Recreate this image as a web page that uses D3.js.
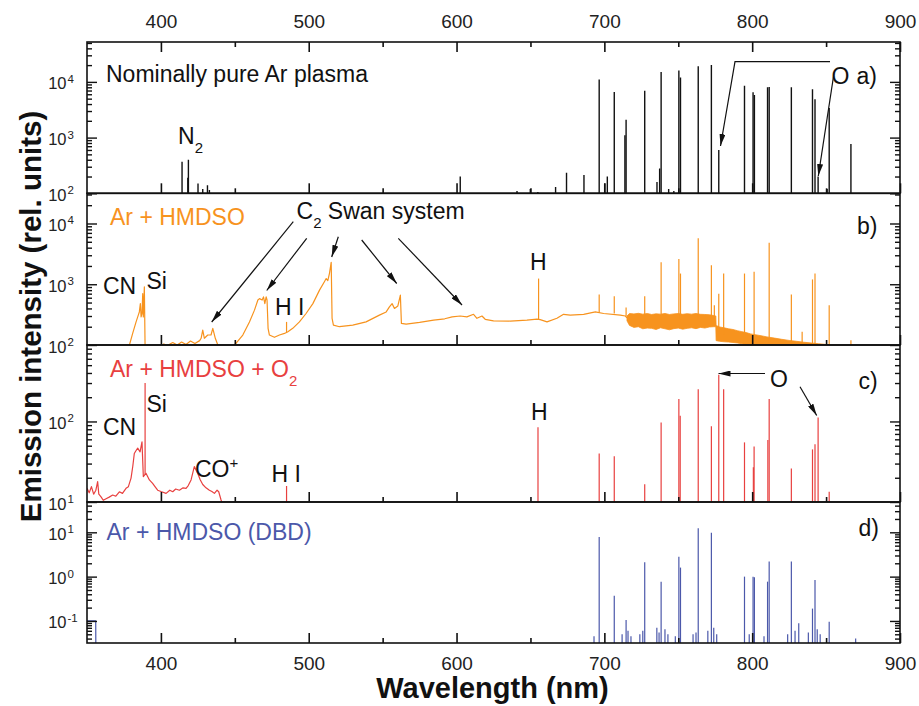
<!DOCTYPE html>
<html>
<head>
<meta charset="utf-8">
<script src="https://cdn.jsdelivr.net/npm/d3@7"></script>
<style>
  body { margin: 0; background: #fff; }
  svg { display: block; font-family: "Liberation Sans", Arial, sans-serif; }
</style>
</head>
<body>
<svg id="chart" width="919" height="706"></svg>
<script>
// ---- values ----
const wlMajor = [400, 500, 600, 700, 800, 900];
const wlMinor = [450, 550, 650, 750, 850];

// a) nominally pure Ar plasma: [wavelength, peak]
const arLines = [
  [414.3, 370], [418.2, 190], [418.6, 400], [425.1, 150], [428.3, 120], [431.5, 140], [432.8, 115],
  [602.5, 200], [640.9, 110], [649.9, 120], [655.0, 105], [667.0, 130], [674.4, 235], [686.2, 213],
  [696.5, 1.1e4], [700.2, 150], [702.0, 200], [706.7, 6.6e3], [713.9, 1.1e3], [714.7, 2.1e3],
  [727.3, 6.9e3], [735.6, 160], [737.4, 280], [738.4, 1.5e4], [743.5, 120], [747.0, 110],
  [750.4, 1.6e4], [751.5, 1.2e4], [763.5, 1.9e4], [772.4, 2.0e4], [777.4, 600], [794.8, 8.5e3],
  [800.6, 6.5e3], [801.5, 5.8e3], [810.4, 8.0e3], [811.5, 8.1e3], [826.5, 8.0e3], [840.8, 7.4e3],
  [842.5, 4.9e3], [844.6, 200], [850.7, 120], [852.1, 3.4e3], [866.8, 770]
];

// b) Ar + HMDSO: continuum [wl, value], noisy band [wl, low, high], lines [wl, base, peak]
const hmdsoCont = [
  [350, 80], [377.5, 80], [378.7, 100], [380.9, 155], [383.2, 240], [384.7, 310], [385.4, 350],
  [386.1, 480], [386.6, 290], [387.2, 330], [387.7, 700], [388.1, 290], [388.8, 910], [389.3, 90],
  [389.9, 80], [399, 88], [402, 104], [404, 97], [408, 110], [411, 100], [414, 112], [417, 102],
  [420, 116], [423, 106], [426.2, 118],
  [427.2, 129], [428.3, 176], [429.4, 129], [431.7, 146], [433.9, 146], [435.1, 188], [436.8, 129],
  [438.5, 100], [441, 90], [448.6, 95], [450.9, 107], [455.4, 146], [459.9, 240], [463.3, 375],
  [465.6, 550], [466.7, 580], [468.5, 550], [469.4, 620], [470.3, 480], [471.2, 620], [471.8, 550],
  [472.5, 188], [473.4, 146], [476.8, 134], [480.2, 146], [483.6, 155], [485.9, 165], [489.2, 188],
  [493.7, 240], [498.2, 330], [502.8, 480], [507.3, 800], [510.6, 1100], [511.8, 1240], [512.9, 1150],
  [514.0, 1500], [515.2, 2300], [515.8, 275], [516.7, 213], [520.8, 200], [529.8, 213], [538.8, 240],
  [547.8, 310], [552.4, 350], [554.6, 425], [556.4, 480], [558.0, 400], [560.3, 440], [562.0, 660],
  [562.7, 227], [565.9, 220], [575, 235], [584.5, 256], [592, 270], [597, 290], [602.5, 300],
  [607, 290], [611.5, 320], [613.8, 275], [617.2, 300], [619.4, 265], [625, 250], [636.3, 248],
  [647.6, 256], [654.4, 267], [656.6, 262], [661.2, 240], [667.9, 275], [672.4, 320], [676.9, 310],
  [686, 320], [693.9, 350], [699.5, 330], [710.8, 310], [714.2, 300], [715.3, 280]
];
const hmdsoBand = [
  [715.3, 250, 300], [717, 210, 330], [720, 195, 325], [723, 200, 332], [726, 185, 322], [729, 190, 330],
  [732, 188, 318], [735, 180, 326], [738, 192, 322], [741, 185, 330], [744, 178, 318], [747, 186, 325],
  [750, 190, 330], [753, 182, 320], [756, 188, 328], [759, 192, 322], [762, 186, 330], [765, 195, 320],
  [768, 190, 318], [771, 198, 315], [774, 200, 305], [775.4, 200, 300],
  [775.6, 118, 210], [778, 115, 198], [781, 113, 192], [784, 112, 185], [787, 110, 180], [790, 108, 172],
  [793, 105, 166], [796, 102, 160], [799, 96, 152], [802, 90, 148], [806, 90, 142], [810, 90, 136],
  [815, 90, 130], [820, 90, 124], [825, 90, 119], [830, 90, 115], [835, 90, 111], [840, 90, 108],
  [845, 90, 105], [852, 90, 101]
];
const hmdsoLines = [
  [485.0, 160, 240], [655.5, 262, 1240], [696.5, 340, 680], [706.7, 330, 635], [714.7, 300, 415],
  [727.3, 260, 635], [738.4, 260, 2300], [750.4, 260, 2600], [751.5, 260, 1500], [763.5, 260, 5700],
  [772.4, 260, 2050], [774.4, 260, 450], [777.4, 190, 700], [780.7, 150, 1500], [794.8, 130, 1500],
  [801.3, 120, 1600], [811.5, 110, 4800], [826.5, 100, 680], [833.8, 95, 165], [840.8, 95, 1200],
  [842.5, 95, 1500], [852.1, 95, 450], [866.8, 95, 120]
];

// c) Ar + HMDSO + O2
const o2Cont = [
  [350, 14.8], [351.5, 13], [353, 15.5], [354.5, 12.5], [356, 14], [357.2, 17.9], [358, 12.5],
  [359.5, 11.6], [361, 10.5], [362.9, 11], [365, 11.5], [367.4, 12.2], [369.5, 11.8], [371.9, 13.4],
  [374, 12.8], [376.4, 14.8], [378, 15.5], [379.8, 19.8], [381, 28], [382, 40], [383, 43],
  [384.3, 46.6], [385.9, 42], [387.2, 56], [388.1, 20.7], [389.9, 22.7], [392.2, 18.8], [394.4, 17],
  [396, 15.5], [397.8, 14], [400, 13.5], [403.5, 12.8], [406, 14], [408, 13.4], [410, 14.5],
  [412.5, 14], [415, 15], [417, 14.8], [418.5, 16], [420.4, 18.8], [422.6, 27.5], [424.9, 22.7],
  [426.5, 19], [428.3, 16.5], [430.5, 15], [432.8, 14], [434.5, 13.5], [436.2, 12.8], [438, 14],
  [439.1, 13.4], [440.7, 10.6], [442, 9], [900, 9]
];
const o2Lines = [
  [389.3, 22, 300], [485.0, 9, 15.8], [655.1, 9, 85], [696.5, 9, 40], [706.7, 9, 37], [727.3, 9, 16.6],
  [738.4, 9, 97], [750.4, 9, 190], [751.3, 9, 118], [763.5, 9, 252], [772.4, 9, 87], [777.4, 9, 380],
  [780.7, 9, 252], [794.8, 9, 55], [800.8, 9, 27], [801.3, 9, 49], [810.6, 9, 59], [811.5, 9, 190],
  [826.5, 9, 26], [840.8, 9, 45], [842.5, 9, 52], [844.6, 9, 112], [852.1, 9, 13.4]
];

// d) Ar + HMDSO (DBD)
const dbdCont = [[350, 0.1], [355.9, 0.1], [356.0, 0.02], [900, 0.02]];
const dbdLines = [
  [696.5, 0.02, 7.8], [706.7, 0.02, 0.37], [714.7, 0.02, 0.105], [727.3, 0.02, 2.1], [738.4, 0.02, 0.77],
  [750.4, 0.02, 2.8], [751.5, 0.02, 1.6], [763.5, 0.02, 12.3], [772.4, 0.02, 9.8], [794.8, 0.02, 1.0],
  [800.6, 0.02, 1.0], [801.5, 0.02, 0.97], [810.4, 0.02, 0.77], [811.5, 0.02, 2.2], [826.5, 0.02, 2.2],
  [831.5, 0.02, 0.089], [840.8, 0.02, 0.19], [842.5, 0.02, 0.84], [852.1, 0.02, 0.096],
  [693, 0.02, 0.045], [712, 0.02, 0.05], [716, 0.02, 0.06], [718, 0.02, 0.045], [724, 0.02, 0.05],
  [726, 0.02, 0.06], [735.5, 0.02, 0.07], [737, 0.02, 0.055], [741, 0.02, 0.065], [743, 0.02, 0.05],
  [748, 0.02, 0.045], [760, 0.02, 0.05], [762, 0.02, 0.055], [770, 0.02, 0.06], [774, 0.02, 0.07],
  [776, 0.02, 0.05], [798, 0.02, 0.05], [808, 0.02, 0.045], [824, 0.02, 0.05], [829, 0.02, 0.06],
  [838, 0.02, 0.055], [844, 0.02, 0.065], [846, 0.02, 0.05], [870, 0.02, 0.04]
];

// ---- layout ----
const svg = d3.select("#chart");
const x = d3.scaleLinear().domain([350, 900]).range([87, 900]);
const FONT = 23;

const panels = [
  { id: "a", top: 42, bottom: 193.3, domain: [100, 5.2e4], color: "#111", lines: arLines.map(d => [d[0], 90, d[1]]) },
  { id: "b", top: 193.3, bottom: 345, domain: [100, 3.14e4], color: "#f7931e", cont: hmdsoCont, band: hmdsoBand, lines: hmdsoLines },
  { id: "c", top: 345, bottom: 502, domain: [10, 890], color: "#e8403f", cont: o2Cont, lines: o2Lines },
  { id: "d", top: 502, bottom: 643, domain: [0.0318, 48.3], color: "#4b58aa", cont: dbdCont, lines: dbdLines }
];

const defs = svg.append("defs");
defs.append("marker")
  .attr("id", "arrow")
  .attr("viewBox", "0 0 12 6")
  .attr("refX", 12)
  .attr("refY", 3)
  .attr("markerWidth", 12)
  .attr("markerHeight", 6)
  .attr("markerUnits", "userSpaceOnUse")
  .attr("orient", "auto")
  .append("path")
  .attr("d", "M0,0 L12,3 L0,6 Z")
  .attr("fill", "#111");

panels.forEach((p) => {
  const y = d3.scaleLog().domain(p.domain).range([p.bottom, p.top]);
  p.y = y;

  defs.append("clipPath").attr("id", "clip-" + p.id)
    .append("rect")
    .attr("x", x(350)).attr("y", p.top)
    .attr("width", x(900) - x(350)).attr("height", p.bottom - p.top);

  const g = svg.append("g").attr("clip-path", `url(#clip-${p.id})`);

  if (p.band) {
    g.append("path")
      .datum(p.band)
      .attr("fill", p.color)
      .attr("stroke", p.color)
      .attr("stroke-width", 0.8)
      .attr("d", d3.area().x(d => x(d[0])).y0(d => y(d[1])).y1(d => y(d[2])));
  }

  if (p.cont) {
    g.append("path")
      .datum(p.cont)
      .attr("fill", "none")
      .attr("stroke", p.color)
      .attr("stroke-width", 1.2)
      .attr("stroke-linejoin", "round")
      .attr("d", d3.line().x(d => x(d[0])).y(d => y(d[1])));
  }

  g.selectAll("line.spike")
    .data(p.lines)
    .join("line")
    .attr("class", "spike")
    .attr("x1", d => x(d[0]))
    .attr("x2", d => x(d[0]))
    .attr("y1", d => y(d[1]))
    .attr("y2", d => y(d[2]))
    .attr("stroke", p.color)
    .attr("stroke-width", p.id === "a" ? 1.4 : 1.2);

  // y ticks: decades and 2..9 minors, pointing inward on both sides
  const all = y.ticks();
  const major = all.filter(v => Math.abs(Math.log10(v) - Math.round(Math.log10(v))) < 1e-6);
  const minor = all.filter(v => !major.includes(v));

  const axG = svg.append("g");
  const tickAxis = (axis, tx, values, size) => {
    axG.append("g")
      .attr("transform", `translate(${tx},0)`)
      .call(axis(y).tickValues(values).tickSize(-size).tickSizeOuter(0).tickFormat(""))
      .call(s => s.select(".domain").remove())
      .call(s => s.selectAll("line").attr("stroke", "#111").attr("stroke-width", 1.4));
  };
  tickAxis(d3.axisLeft, x(350), major, 10);
  tickAxis(d3.axisLeft, x(350), minor, 5);
  tickAxis(d3.axisRight, x(900), major, 10);
  tickAxis(d3.axisRight, x(900), minor, 5);

  // x ticks along the bottom edge of each panel
  const xTicks = (values, size) => {
    axG.append("g")
      .attr("transform", `translate(0,${p.bottom})`)
      .call(d3.axisBottom(x).tickValues(values).tickSize(-size).tickSizeOuter(0).tickFormat(""))
      .call(s => s.select(".domain").remove())
      .call(s => s.selectAll("line").attr("stroke", "#111").attr("stroke-width", 1.6));
  };
  xTicks(wlMajor, 10);
  xTicks(wlMinor, 5);

  // decade labels 10^n
  major.forEach(v => {
    const e = Math.round(Math.log10(v));
    axG.append("text")
      .attr("x", 66.5).attr("y", y(v) + 7.5)
      .attr("text-anchor", "end")
      .attr("font-size", 16.5)
      .attr("fill", "#222")
      .text("10");
    axG.append("text")
      .attr("x", 67.5).attr("y", y(v) + 1)
      .attr("font-size", 11.5)
      .attr("fill", "#222")
      .text(e);
  });

  svg.append("rect")
    .attr("x", x(350)).attr("y", p.top)
    .attr("width", x(900) - x(350)).attr("height", p.bottom - p.top)
    .attr("fill", "none")
    .attr("stroke", "#111")
    .attr("stroke-width", 1.6);
});

// top wavelength axis (panel a) and bottom axis (panel d)
const pa = panels[0], pd = panels[3];
[[wlMajor, 10], [wlMinor, 5]].forEach(([vals, size]) => {
  svg.append("g")
    .attr("transform", `translate(0,${pa.top})`)
    .call(d3.axisTop(x).tickValues(vals).tickSize(-size).tickSizeOuter(0).tickPadding(14)
      .tickFormat(size === 10 ? d3.format("d") : ""))
    .call(s => s.select(".domain").remove())
    .call(s => s.selectAll("line").attr("stroke", "#111").attr("stroke-width", 1.6))
    .call(s => s.selectAll("text").attr("font-size", 19).attr("fill", "#222").attr("font-family", null));
});
svg.append("g")
  .attr("transform", `translate(0,${pd.bottom})`)
  .call(d3.axisBottom(x).tickValues(wlMajor).tickSize(0).tickSizeOuter(0).tickPadding(13.5).tickFormat(d3.format("d")))
  .call(s => s.select(".domain").remove())
  .call(s => s.selectAll("text").attr("font-size", 19).attr("fill", "#222").attr("font-family", null));

// axis titles
svg.append("text")
  .attr("x", 492.5).attr("y", 698)
  .attr("text-anchor", "middle")
  .attr("font-size", 29)
  .attr("font-weight", "bold")
  .attr("fill", "#111")
  .text("Wavelength (nm)");
svg.append("text")
  .attr("transform", "translate(41,316.5) rotate(-90)")
  .attr("text-anchor", "middle")
  .attr("font-size", 29.5)
  .attr("font-weight", "bold")
  .attr("fill", "#111")
  .text("Emission intensity (rel. units)");

// annotations
function label(px, py, parts, color) {
  const t = svg.append("text")
    .attr("x", px).attr("y", py)
    .attr("font-size", FONT)
    .attr("fill", color || "#111");
  let shift = 0;
  parts.forEach(part => {
    const s = typeof part === "string" ? { t: part, dy: 0 } : part;
    const span = t.append("tspan")
      .attr("dy", s.dy - shift)
      .text(s.t);
    if (s.dy !== 0) span.attr("font-size", 15);
    shift = s.dy;
  });
}

label(106, 82, ["Nominally pure Ar plasma"]);
label(178, 144, ["N", { t: "2", dy: 9 }]);
label(831.5, 83.5, ["O"]);
label(856.5, 83.5, ["a)"]);

label(110, 225, ["Ar + HMDSO"], "#f7931e");
label(296.5, 218.5, ["C", { t: "2", dy: 9 }, " Swan system"]);
label(103, 293.5, ["CN"]);
label(146.5, 288.5, ["Si"]);
label(275, 315, ["H I"]);
label(530, 270, ["H"]);
label(857, 233.5, ["b)"]);

label(110, 376.5, ["Ar + HMDSO + O", { t: "2", dy: 9 }], "#e8403f");
label(103, 435, ["CN"]);
label(146.5, 411.5, ["Si"]);
label(195, 476.5, ["CO", { t: "+", dy: -9 }]);
label(271.5, 481.5, ["H I"]);
label(531, 420, ["H"]);
label(770, 387, ["O"]);
label(858.5, 388.5, ["c)"]);

label(106.5, 540, ["Ar + HMDSO (DBD)"], "#4b58aa");
label(858.5, 535.5, ["d)"]);

const arrows = [
  [[830, 61.7], [735, 61.7], [720.5, 146]],
  [[833.5, 76.5], [818.3, 176]],
  [[293.3, 221.7], [211.7, 322]],
  [[306.7, 238.3], [266.7, 290.5]],
  [[338.3, 236.7], [331.7, 257]],
  [[361.7, 240], [396.7, 283.5]],
  [[398.3, 238.3], [462, 305]],
  [[765, 373.5], [718.5, 373.5]],
  [[800, 386.7], [816.7, 415.5]]
];
svg.selectAll("path.arrow")
  .data(arrows)
  .join("path")
  .attr("class", "arrow")
  .attr("d", d => d3.line()(d))
  .attr("fill", "none")
  .attr("stroke", "#111")
  .attr("stroke-width", 1.2)
  .attr("marker-end", "url(#arrow)");
</script>
</body>
</html>
